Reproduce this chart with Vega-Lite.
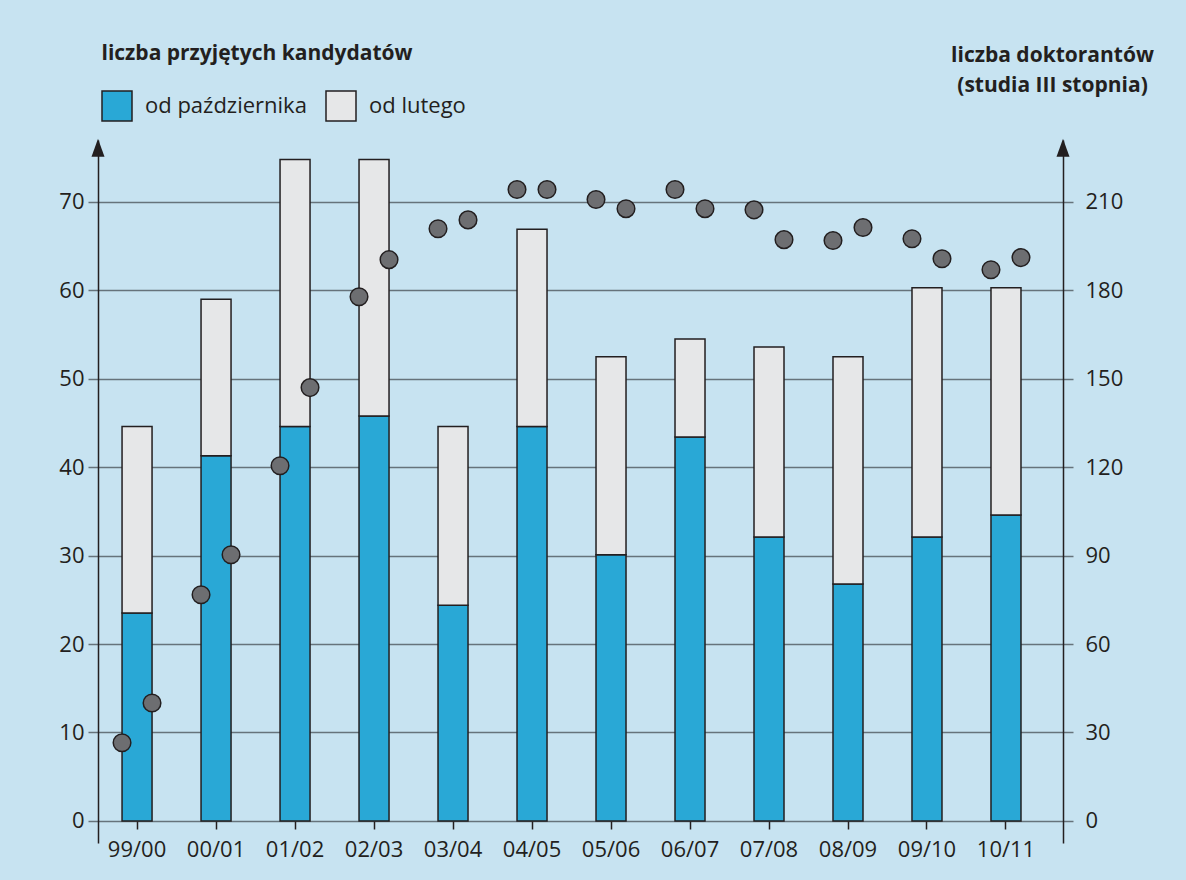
{
  "$schema": "https://vega.github.io/schema/vega-lite/v6.json",
  "width": 965,
  "height": 703,
  "autosize": {"type": "none"},
  "padding": {"left": 98, "top": 140, "right": 123, "bottom": 37},
  "background": "#c7e3f1",
  "config": {"view": {"stroke": null}, "font": "Open Sans"},
  "datasets": {
    "bars": [
      {"year": "99/00", "sem": "od października", "n": 23.5},
      {"year": "99/00", "sem": "od lutego", "n": 21.1},
      {"year": "00/01", "sem": "od października", "n": 41.3},
      {"year": "00/01", "sem": "od lutego", "n": 17.7},
      {"year": "01/02", "sem": "od października", "n": 44.6},
      {"year": "01/02", "sem": "od lutego", "n": 30.2},
      {"year": "02/03", "sem": "od października", "n": 45.8},
      {"year": "02/03", "sem": "od lutego", "n": 29.0},
      {"year": "03/04", "sem": "od października", "n": 24.4},
      {"year": "03/04", "sem": "od lutego", "n": 20.2},
      {"year": "04/05", "sem": "od października", "n": 44.6},
      {"year": "04/05", "sem": "od lutego", "n": 22.3},
      {"year": "05/06", "sem": "od października", "n": 30.1},
      {"year": "05/06", "sem": "od lutego", "n": 22.4},
      {"year": "06/07", "sem": "od października", "n": 43.4},
      {"year": "06/07", "sem": "od lutego", "n": 11.1},
      {"year": "07/08", "sem": "od października", "n": 32.1},
      {"year": "07/08", "sem": "od lutego", "n": 21.5},
      {"year": "08/09", "sem": "od października", "n": 26.8},
      {"year": "08/09", "sem": "od lutego", "n": 25.7},
      {"year": "09/10", "sem": "od października", "n": 32.1},
      {"year": "09/10", "sem": "od lutego", "n": 28.2},
      {"year": "10/11", "sem": "od października", "n": 34.6},
      {"year": "10/11", "sem": "od lutego", "n": 25.7}
    ],
    "dots": [
      {"year": "99/00", "s": "I", "v": 26.5},
      {"year": "99/00", "s": "II", "v": 40.0},
      {"year": "00/01", "s": "I", "v": 76.7},
      {"year": "00/01", "s": "II", "v": 90.3},
      {"year": "01/02", "s": "I", "v": 120.5},
      {"year": "01/02", "s": "II", "v": 147.0},
      {"year": "02/03", "s": "I", "v": 177.8},
      {"year": "02/03", "s": "II", "v": 190.4},
      {"year": "03/04", "s": "I", "v": 200.9},
      {"year": "03/04", "s": "II", "v": 203.9},
      {"year": "04/05", "s": "I", "v": 214.2},
      {"year": "04/05", "s": "II", "v": 214.2},
      {"year": "05/06", "s": "I", "v": 210.8},
      {"year": "05/06", "s": "II", "v": 207.7},
      {"year": "06/07", "s": "I", "v": 214.2},
      {"year": "06/07", "s": "II", "v": 207.7},
      {"year": "07/08", "s": "I", "v": 207.3},
      {"year": "07/08", "s": "II", "v": 197.2},
      {"year": "08/09", "s": "I", "v": 196.9},
      {"year": "08/09", "s": "II", "v": 201.3},
      {"year": "09/10", "s": "I", "v": 197.5},
      {"year": "09/10", "s": "II", "v": 190.7},
      {"year": "10/11", "s": "I", "v": 187.0},
      {"year": "10/11", "s": "II", "v": 191.1}
    ]
  },
  "layer": [
    {
      "layer": [
        {
          "data": {"name": "bars"},
          "mark": {"type": "bar", "stroke": "#231f20", "strokeWidth": 1.5, "width": 30},
          "encoding": {
            "x": {
              "field": "year", "type": "nominal",
              "scale": {
                "domain": ["99/00","00/01","01/02","02/03","03/04","04/05","05/06","06/07","07/08","08/09","09/10","10/11"],
                "paddingInner": 0.62, "paddingOuter": 0.418, "align": 0.364
              },
              "axis": {
                "title": null, "domain": false, "grid": false, "offset": -22,
                "tickSize": 8, "tickColor": "#231f20", "tickWidth": 1.5,
                "labelFontSize": 22, "labelPadding": 10, "labelColor": "#231f20", "labelAngle": 0
              }
            },
            "y": {
              "field": "n", "type": "quantitative", "stack": "zero",
              "scale": {"domain": [-2.5, 77], "nice": false, "zero": false},
              "axis": {
                "values": [0, 10, 20, 30, 40, 50, 60, 70],
                "title": "liczba przyjętych kandydatów",
                "titleAngle": 0, "titleAlign": "left", "titleBaseline": "alphabetic",
                "titleX": 3, "titleY": -81, "titleFontSize": 21, "titleFontWeight": "bold", "titleColor": "#231f20",
                "grid": true, "gridColor": "#66737b", "gridWidth": 1.5,
                "tickSize": 10, "tickColor": "#66737b", "tickWidth": 1.5,
                "domainColor": "#231f20", "domainWidth": 1.5,
                "labelFontSize": 22, "labelPadding": 4, "labelColor": "#231f20"
              }
            },
            "color": {
              "field": "sem", "type": "nominal",
              "scale": {"domain": ["od października", "od lutego"], "range": ["#29a8d6", "#e6e7e8"]},
              "legend": {
                "orient": "none", "legendX": 3, "legendY": -50, "direction": "horizontal",
                "title": null, "symbolType": "square", "symbolSize": 900,
                "symbolStrokeColor": "#231f20", "symbolStrokeWidth": 1.5, "symbolOpacity": 1,
                "labelFontSize": 22, "labelOffset": 12, "labelLimit": 400, "columnPadding": 16, "labelColor": "#231f20"
              }
            },
            "order": {"field": "sem", "sort": "descending"}
          }
        },
        {
          "data": {"values": [{}]},
          "mark": {"type": "point", "shape": "M0,-1L0.65,0.8L-0.65,0.8Z", "filled": true, "size": 400, "color": "#231f20", "opacity": 1},
          "encoding": {"x": {"value": 0}, "y": {"datum": 76, "type": "quantitative"}}
        }
      ]
    },
    {
      "layer": [
        {
          "data": {"name": "dots"},
          "mark": {"type": "circle", "size": 310, "fill": "#6d6e71", "stroke": "#231f20", "strokeWidth": 1.5, "opacity": 1},
          "encoding": {
            "x": {"field": "year", "type": "nominal"},
            "xOffset": {"field": "s", "type": "nominal", "scale": {"domain": ["I", "II"], "range": [-15, 45]}},
            "y": {
              "field": "v", "type": "quantitative",
              "scale": {"domain": [-7.5, 231], "nice": false, "zero": false},
              "axis": {
                "orient": "right",
                "values": [0, 30, 60, 90, 120, 150, 180, 210],
                "title": ["liczba doktorantów", "(studia III stopnia)"],
                "titleAngle": 0, "titleAlign": "center", "titleBaseline": "alphabetic",
                "titleX": -11, "titleY": -79, "titleFontSize": 21, "titleFontWeight": "bold",
                "titleColor": "#231f20", "titleLineHeight": 30,
                "grid": false, "tickSize": 10, "tickColor": "#66737b", "tickWidth": 1.5,
                "domainColor": "#231f20", "domainWidth": 1.5,
                "labelFontSize": 22, "labelPadding": 12, "labelColor": "#231f20"
              }
            }
          }
        },
        {
          "data": {"values": [{}]},
          "mark": {"type": "point", "shape": "M0,-1L0.65,0.8L-0.65,0.8Z", "filled": true, "size": 400, "color": "#231f20", "opacity": 1},
          "encoding": {"x": {"value": "width"}, "y": {"datum": 228, "type": "quantitative"}}
        }
      ]
    }
  ],
  "resolve": {"scale": {"y": "independent"}}
}
